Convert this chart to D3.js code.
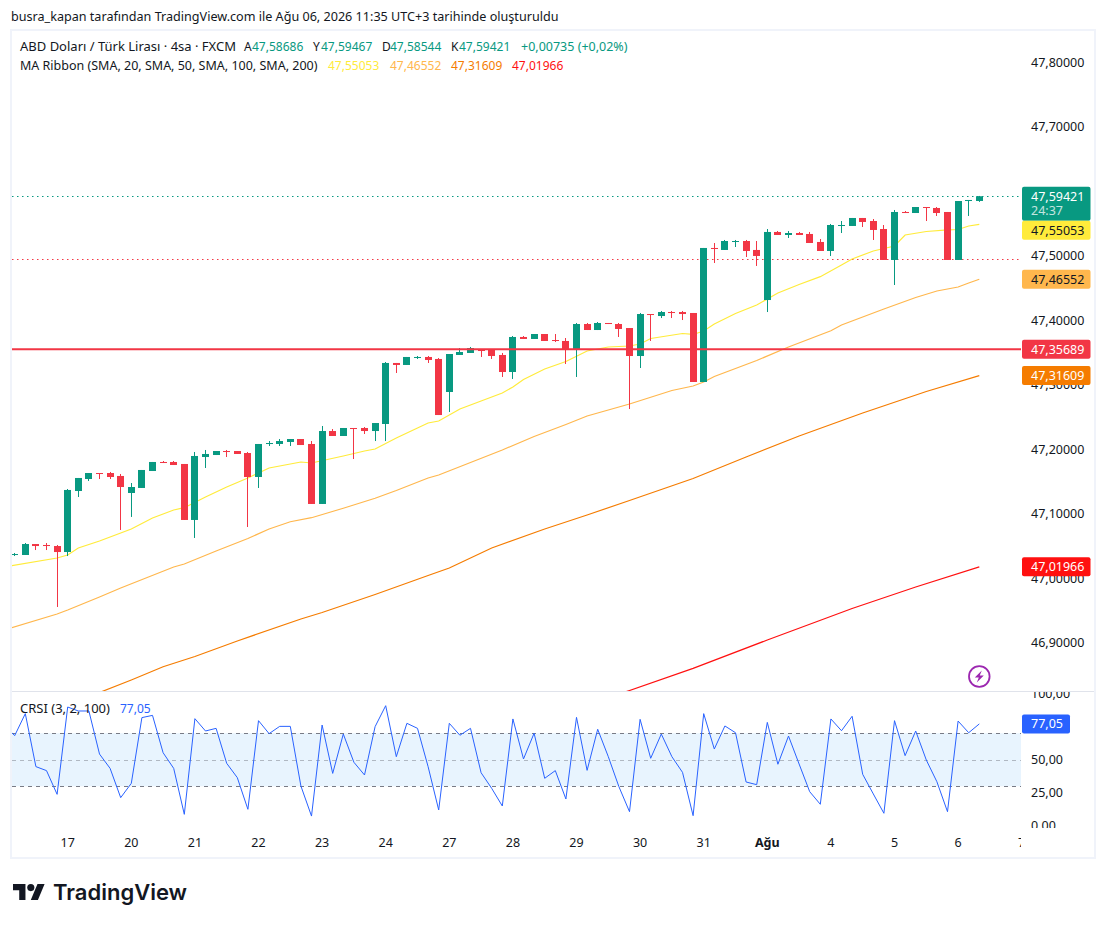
<!DOCTYPE html>
<html>
<head>
<meta charset="utf-8">
<title>USDTRY</title>
<script src="https://cdn.jsdelivr.net/npm/d3@7"></script>
<style>
	body { margin: 0; background: #fff; }
	svg { display: block; }
	text { font-family: "Noto Sans", sans-serif; font-size: 12px; fill: #131722; }
	.axis text { font-size: 12.5px; fill: #131722; }
	.axis path, .axis line { display: none; }
</style>
</head>
<body>
<svg width="1106" height="925"></svg>
<script>
// candles, one per 4h bar, 0 = first bar visible on the left
var opens = [47.0380,47.0380,47.0550,47.0535,47.0519,47.0426,47.1372,47.1558,47.1651,47.1651,47.1605,47.1341,47.1419,47.1682,47.1822,47.1822,47.1791,47.0923,47.1899,47.1930,47.1992,47.1992,47.1961,47.1589,47.2101,47.2101,47.2132,47.2178,47.2101,47.1171,47.2302,47.2225,47.2349,47.2349,47.2302,47.2411,47.3357,47.3326,47.3434,47.3450,47.3419,47.2907,47.3481,47.3512,47.3558,47.3558,47.3481,47.3217,47.3760,47.3729,47.3806,47.3713,47.3698,47.3574,47.3961,47.3868,47.3977,47.3961,47.3899,47.3465,47.4116,47.4085,47.4147,47.4147,47.4132,47.3062,47.5140,47.5109,47.5233,47.5248,47.5109,47.4333,47.5388,47.5341,47.5372,47.5357,47.5233,47.5093,47.5481,47.5481,47.5605,47.5558,47.5434,47.4954,47.5698,47.5682,47.5775,47.5760,47.5698,47.4954,47.5868,47.58686];
var highs = [47.0411,47.0566,47.0550,47.0566,47.0535,47.1403,47.1574,47.1651,47.1651,47.1667,47.1636,47.1496,47.1698,47.1822,47.1837,47.1837,47.1791,47.1977,47.2008,47.1992,47.2008,47.1992,47.1977,47.2101,47.2147,47.2178,47.2178,47.2178,47.2147,47.2380,47.2333,47.2349,47.2349,47.2364,47.2426,47.3372,47.3357,47.3450,47.3465,47.3465,47.3434,47.3496,47.3589,47.3605,47.3558,47.3558,47.3512,47.3775,47.3775,47.3806,47.3806,47.3806,47.3744,47.3977,47.3977,47.3992,47.3977,47.3977,47.3899,47.4132,47.4116,47.4163,47.4163,47.4163,47.4132,47.5140,47.5217,47.5264,47.5264,47.5264,47.5248,47.5434,47.5403,47.5403,47.5388,47.5388,47.5279,47.5512,47.5558,47.5605,47.5605,47.5589,47.5496,47.5729,47.5713,47.5775,47.5775,47.5775,47.5698,47.5868,47.5884,47.59467];
var lows = [47.0364,47.0380,47.0457,47.0457,46.9574,47.0364,47.1279,47.1527,47.1558,47.1558,47.0768,47.0970,47.1419,47.1682,47.1806,47.1775,47.0923,47.0644,47.1729,47.1930,47.1899,47.1946,47.0814,47.1419,47.2070,47.2070,47.2070,47.2085,47.1171,47.1171,47.2225,47.2225,47.1868,47.2256,47.2147,47.2147,47.3202,47.3326,47.3419,47.3357,47.2550,47.2597,47.3481,47.3512,47.3450,47.3419,47.3140,47.3109,47.3729,47.3729,47.3698,47.3682,47.3341,47.3140,47.3868,47.3868,47.3961,47.3760,47.2643,47.3279,47.3698,47.4054,47.4054,47.4023,47.3062,47.3062,47.4907,47.5109,47.5155,47.5000,47.4861,47.4147,47.5341,47.5295,47.5341,47.5217,47.5093,47.5016,47.5372,47.5481,47.5465,47.5264,47.4954,47.4566,47.5682,47.5682,47.5558,47.5636,47.4954,47.4954,47.5636,47.58544];
var closes = [47.0395,47.0550,47.0519,47.0519,47.0426,47.1388,47.1574,47.1651,47.1636,47.1589,47.1434,47.1434,47.1698,47.1822,47.1806,47.1775,47.0923,47.1915,47.1946,47.1992,47.1977,47.1946,47.1589,47.2101,47.2116,47.2147,47.2178,47.2085,47.1171,47.2302,47.2225,47.2349,47.2333,47.2302,47.2426,47.3357,47.3326,47.3450,47.3450,47.3403,47.2550,47.3496,47.3527,47.3589,47.3543,47.3465,47.3217,47.3760,47.3729,47.3806,47.3698,47.3698,47.3574,47.3961,47.3868,47.3977,47.3961,47.3884,47.3465,47.4116,47.4101,47.4147,47.4132,47.4116,47.3062,47.5140,47.5124,47.5248,47.5248,47.5093,47.5016,47.5388,47.5341,47.5372,47.5341,47.5217,47.5093,47.5496,47.5496,47.5605,47.5543,47.5419,47.4954,47.5698,47.5682,47.5775,47.5760,47.5682,47.4954,47.5868,47.5884,47.59421];

// moving averages, read at the bars where the line bends
var ma20Bars = [-1,4,5,6,8,11,13,15,16,18,20,22,24,26,27,28,31,33,34,36,38,39,40,42,44,46,47,48,50,52,54,56,58,59,60,63,64,65,66,68,70,72,74,76,78,79,81,83,84,86,88,89,90,91];
var ma20Values = [47.0194,47.0333,47.0380,47.0488,47.0597,47.0783,47.0953,47.1077,47.1113,47.1279,47.1434,47.1574,47.1729,47.1791,47.1822,47.1806,47.1915,47.1992,47.2023,47.2194,47.2349,47.2426,47.2457,47.2643,47.2767,47.2892,47.2985,47.3101,47.3264,47.3380,47.3543,47.3605,47.3620,47.3651,47.3736,47.3814,47.3799,47.3853,47.3961,47.4124,47.4256,47.4442,47.4574,47.4695,47.4876,47.4969,47.5093,47.5171,47.5341,47.5395,47.5419,47.5426,47.5481,47.55053];
var ma50Bars = [-1,4,5,8,10,15,16,19,22,24,26,28,31,34,36,39,40,43,46,49,52,54,58,62,64,65,66,70,73,77,78,82,85,87,89,90,91];
var ma50Values = [46.9217,46.9465,46.9527,46.9729,46.9868,47.0194,47.0240,47.0442,47.0636,47.0783,47.0896,47.0958,47.1104,47.1259,47.1380,47.1574,47.1620,47.1814,47.2008,47.2217,47.2403,47.2535,47.2721,47.2930,47.3000,47.3062,47.3147,47.3395,47.3605,47.3857,47.3946,47.4194,47.4372,47.4473,47.4535,47.4597,47.46552];
var ma100Bars = [8,11,14,17,21,27,29,34,39,41,45,50,54,58,64,69,74,80,86,91];
var ma100Values = [46.8248,46.8442,46.8648,46.8806,46.9047,46.9388,46.9488,46.9767,47.0062,47.0178,47.0488,47.0783,47.1000,47.1225,47.1566,47.1899,47.2225,47.2581,47.2915,47.31609];
var ma200Bars = [57,58,64,71,79,85,91];
var ma200Values = [46.8225,46.8279,46.8623,46.9062,46.9550,46.9884,47.01966];

// CRSI, first value belongs to bar -1
var crsiValues = [76.2,68.2,84.8,44.8,41.8,23.9,89.8,86.8,86.8,54.3,43.5,21.4,32.2,81.8,83.5,55.3,43.5,8.8,81.0,71.7,73.7,47.3,36.5,12.6,79.5,69.7,75.2,75.2,30.2,7.5,76.2,39.7,69.4,48.1,38.5,75.0,90.8,52.3,77.5,73.7,44.8,12.1,77.5,68.5,73.7,40.2,28.4,15.1,80.8,50.6,70.0,36.0,41.8,20.4,82.0,42.0,73.0,52.3,29.7,10.8,80.5,51.1,69.4,52.3,40.5,7.8,84.8,58.1,75.5,70.4,33.2,31.2,78.2,46.6,67.9,46.8,25.9,16.4,80.8,71.9,82.8,39.0,24.2,9.6,79.5,53.1,71.7,49.8,33.4,10.8,79.2,70.4,77.05];

var dayBars = [5,11,17,23,29,35,41,47,53,59,65,71,77,83,89,95];
var dayLabels = ["17","20","21","22","23","24","27","28","29","30","31","Ağu","4","5","6","7"];
var priceTicks = [47.8,47.7,47.5,47.4,47.3,47.2,47.1,47.0,46.9];
var crsiTicks = [100,50,25,0];
var crsiBands = [30,50,70];

var lastPrice = 47.59421;
var prevCloseLine = 47.4961;
var alertPrice = 47.35689;

var titleText = "busra_kapan tarafından TradingView.com ile Ağu 06, 2026 11:35 UTC+3 tarihinde oluşturuldu";

// right hand price labels, top to bottom
var labelValues = [47.59421,47.55053,47.46552,47.35689,47.31609,47.01966];
var labelColors = ["#089981","#FFEB3B","#FFB74D","#F23645","#F57C00","#FF1010"];
var labelInk = ["#fff","#131722","#131722","#fff","#fff","#fff"];

var up = "#089981", down = "#F23645", blue = "#2962FF";

var comma = d3.formatLocale({decimal: ",", thousands: ".", grouping: [3], currency: ["", ""]});
var fmt5 = comma.format(".5f"), fmt2 = comma.format(".2f");

var svg = d3.select("svg");

var paneLeft = 12, paneRight = 1021, paneTop = 31, paneBottom = 691, crsiTop = 692, crsiBottom = 828;

var x = d3.scaleLinear().domain([0, 91]).range([14.7, 979.3]);
var y = d3.scaleLinear().domain([47.8, 46.9]).range([63.5, 644]);
var yc = d3.scaleLinear().domain([0, 100]).range([826, 693.5]);

var defs = svg.append("defs");
defs.append("clipPath").attr("id", "main-clip").append("rect")
	.attr("x", paneLeft).attr("y", paneTop).attr("width", paneRight - paneLeft).attr("height", paneBottom - paneTop);
defs.append("clipPath").attr("id", "crsi-clip").append("rect")
	.attr("x", paneLeft).attr("y", crsiTop).attr("width", paneRight - paneLeft).attr("height", crsiBottom - crsiTop);
defs.append("clipPath").attr("id", "crsi-axis-clip").append("rect")
	.attr("x", paneRight).attr("y", crsiTop).attr("width", 74).attr("height", crsiBottom - crsiTop);
defs.append("clipPath").attr("id", "time-clip").append("rect")
	.attr("x", paneLeft).attr("y", 830).attr("width", paneRight - paneLeft).attr("height", 26);

svg.append("text").attr("x", 11).attr("y", 21).style("font-size", "12.6px").text(titleText);

// frame
svg.append("rect").attr("x", 11).attr("y", 30).attr("width", 1084).attr("height", 828)
	.attr("fill", "none").attr("stroke", "#f0f3fa").attr("stroke-width", 2);
svg.append("line").attr("x1", paneLeft).attr("x2", 1094).attr("y1", 691.5).attr("y2", 691.5)
	.attr("stroke", "#e0e3eb");

// main pane
var main = svg.append("g").attr("clip-path", "url(#main-clip)");

function hDotted(price, color) {
	main.append("line").attr("x1", paneLeft).attr("x2", paneRight)
		.attr("y1", Math.floor(y(price)) + 0.5).attr("y2", Math.floor(y(price)) + 0.5)
		.attr("stroke", color).attr("stroke-dasharray", "1.5 3.5");
}
hDotted(lastPrice, up);
hDotted(prevCloseLine, down);

function maLine(bars, values, color) {
	var line = d3.line()
		.x(function(d, i) { return x(bars[i]); })
		.y(function(d) { return y(d); });
	main.append("path").attr("d", line(values))
		.attr("fill", "none").attr("stroke", color).attr("stroke-width", 1.2);
}
maLine(ma20Bars, ma20Values, "#FFEB3B");
maLine(ma50Bars, ma50Values, "#FFB74D");
maLine(ma100Bars, ma100Values, "#F57C00");
maLine(ma200Bars, ma200Values, "#FF1010");

var bars = main.selectAll(".bar").data(d3.range(opens.length)).enter().append("g")
	.attr("class", "bar")
	.attr("fill", function(i) { return closes[i] >= opens[i] ? up : down; });

bars.append("rect") // wick
	.attr("x", function(i) { return Math.round(x(i) - 0.5); })
	.attr("width", 1)
	.attr("y", function(i) { return y(highs[i]); })
	.attr("height", function(i) { return y(lows[i]) - y(highs[i]); });

bars.append("rect") // body
	.attr("x", function(i) { return Math.round(x(i) - 0.5) - 3; })
	.attr("width", 7)
	.attr("y", function(i) { return y(Math.max(opens[i], closes[i])); })
	.attr("height", function(i) { return Math.max(1, Math.abs(y(opens[i]) - y(closes[i]))); });

main.append("line").attr("x1", paneLeft).attr("x2", paneRight)
	.attr("y1", y(alertPrice)).attr("y2", y(alertPrice))
	.attr("stroke", down).attr("stroke-width", 2);

// lightning badge
var badge = svg.append("g").attr("transform", "translate(979.3,676.5)");
badge.append("circle").attr("r", 10.3).attr("fill", "#fff").attr("stroke", "#9C27B0").attr("stroke-width", 1.8);
badge.append("path").attr("d", "M2.5 -6 L-4.5 1 L-0.5 1 L-2.5 6 L4.5 -1 L0.5 -1 Z").attr("fill", "#9C27B0");

// price axis
svg.append("g").attr("class", "axis").attr("transform", "translate(1021,-1.5)")
	.call(d3.axisRight(y).tickValues(priceTicks).tickSize(0).tickPadding(10).tickFormat(fmt5));

// price labels, pushed down when they would overlap the one above
var labelBottom = 0;
labelValues.forEach(function(v, i) {
	var h = i == 0 ? 34 : 19;
	var top = i == 0 ? y(v) - 9.5 : Math.max(labelBottom, y(v) - 9.5);
	labelBottom = top + h;
	svg.append("rect").attr("x", 1022).attr("y", top).attr("width", 68.5).attr("height", h).attr("rx", 2)
		.attr("fill", labelColors[i]);
	svg.append("text").attr("x", 1031).attr("y", top + 9.5).attr("dy", "0.35em")
		.style("font-size", "12.5px").style("fill", labelInk[i]).text(fmt5(v));
	if (i == 0) {
		svg.append("text").attr("x", 1031).attr("y", top + 24).attr("dy", "0.35em")
			.style("font-size", "12.5px").style("fill", "#fff").attr("opacity", 0.75).text("24:37");
	}
});

// legend
function legendRow(items, row) {
	items.forEach(function(it) {
		svg.append("text").attr("x", it[0]).attr("y", row)
			.style("font-size", (it[3] || 12) + "px")
			.style("fill", it[2] || "#131722").text(it[1]);
	});
}
legendRow([
	[20, "ABD Doları / Türk Lirası · 4sa · FXCM", null, 13],
	[244, "A"], [252, "47,58686", up],
	[313, "Y"], [321, "47,59467", up],
	[382, "D"], [390, "47,58544", up],
	[451, "K"], [459, "47,59421", up],
	[521, "+0,00735 (+0,02%)", up, 12.5]
], 51);
legendRow([
	[20, "MA Ribbon (SMA, 20, SMA, 50, SMA, 100, SMA, 200)", null, 12.5],
	[328, "47,55053", "#FFEB3B"],
	[390, "47,46552", "#FFB74D"],
	[451, "47,31609", "#F57C00"],
	[512, "47,01966", "#FF1010"]
], 70);

// CRSI pane
var crsi = svg.append("g").attr("clip-path", "url(#crsi-clip)");
crsi.append("rect").attr("x", paneLeft).attr("width", paneRight - paneLeft)
	.attr("y", yc(crsiBands[2])).attr("height", yc(crsiBands[0]) - yc(crsiBands[2]))
	.attr("fill", "#2196F3").attr("fill-opacity", 0.1);
crsi.selectAll(".band").data(crsiBands).enter().append("line")
	.attr("x1", paneLeft).attr("x2", paneRight)
	.attr("y1", function(d) { return Math.round(yc(d)) + 0.5; })
	.attr("y2", function(d) { return Math.round(yc(d)) + 0.5; })
	.attr("stroke", "#787B86")
	.attr("stroke-opacity", function(d) { return d == 50 ? 0.5 : 1; })
	.attr("stroke-dasharray", "4 4");
crsi.append("path")
	.attr("d", d3.line()
		.x(function(d, i) { return x(i - 1); })
		.y(function(d) { return yc(d); })(crsiValues))
	.attr("fill", "none").attr("stroke", blue).attr("stroke-width", 1);

svg.append("g").attr("clip-path", "url(#crsi-axis-clip)")
	.append("g").attr("class", "axis").attr("transform", "translate(1021,-0.5)")
	.call(d3.axisRight(yc).tickValues(crsiTicks).tickSize(0).tickPadding(10).tickFormat(fmt2));

svg.append("rect").attr("x", 1022).attr("y", yc(77.05) - 9.5).attr("width", 48).attr("height", 19).attr("rx", 2).attr("fill", blue);
svg.append("text").attr("x", 1031).attr("y", yc(77.05)).attr("dy", "0.35em")
	.style("font-size", "12.5px").style("fill", "#fff").text(fmt2(77.05));

svg.append("text").attr("x", 20).attr("y", 713).style("font-size", "13px").text("CRSI (3, 2, 100)");
svg.append("text").attr("x", 120).attr("y", 713).style("fill", blue).text(fmt2(77.05));

// time axis
svg.append("g").attr("clip-path", "url(#time-clip)")
	.append("g").attr("class", "axis").attr("transform", "translate(-0.5,836)")
	.call(d3.axisBottom(x).tickValues(dayBars).tickSize(0).tickPadding(2)
		.tickFormat(function(d, i) { return dayLabels[i]; }))
	.selectAll("text")
	.style("font-weight", function(d, i) { return dayLabels[i] == "Ağu" ? 700 : 400; });

// TradingView logo
var logo = svg.append("g").attr("transform", "translate(13,880.5) scale(0.89)").attr("fill", "#131722");
logo.append("path").attr("d", "M14 22H7V11H0V4h14v18zM28 22h-8l7.5-18h8L28 22z");
logo.append("circle").attr("cx", 20).attr("cy", 8).attr("r", 4);
svg.append("text").attr("x", 53).attr("y", 900).style("font-size", "22px").style("font-weight", 600)
	.style("font-family", "Inter, sans-serif").text("TradingView");
</script>
</body>
</html>
